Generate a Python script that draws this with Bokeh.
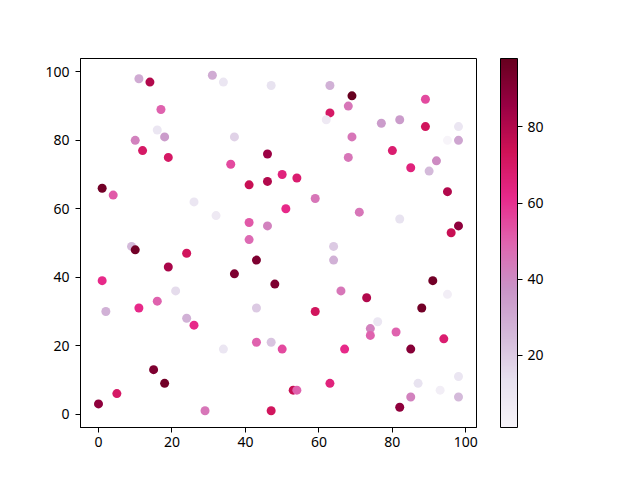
import numpy as np
from bokeh.plotting import figure
from bokeh.models import LinearColorMapper, ColorBar, FixedTicker, Range1d, ColumnDataSource
from bokeh.embed import file_html
from bokeh.resources import INLINE

xs = [11, 14, 31, 17, 16, 18, 10, 12, 19, 1, 34, 47, 63, 69, 68, 63, 62, 37, 69, 46,
      36, 68, 41, 46, 50, 54, 77, 82, 89, 89, 98, 95, 98, 80, 92, 85, 90, 4, 26, 32,
      9, 10, 24, 19, 1, 21, 16, 11, 2, 59, 51, 41, 46, 41, 64, 64, 43, 37, 48, 66,
      43, 59, 95, 71, 82, 98, 96, 91, 73, 95, 88, 24, 26, 15, 18, 5, 0, 29, 34, 43,
      47, 50, 67, 63, 53, 54, 47, 76, 74, 74, 81, 94, 85, 98, 87, 93, 85, 98, 82]
ys = [98, 97, 99, 89, 83, 81, 80, 77, 75, 66, 97, 96, 96, 93, 90, 88, 86, 81, 81, 76,
      73, 75, 67, 68, 70, 69, 85, 86, 92, 84, 84, 80, 80, 77, 74, 72, 71, 64, 62, 58,
      49, 48, 47, 43, 39, 36, 33, 31, 30, 63, 60, 56, 55, 51, 49, 45, 45, 41, 38, 36,
      31, 30, 65, 59, 57, 55, 53, 39, 34, 35, 31, 28, 26, 13, 9, 6, 3, 1, 19, 21,
      21, 19, 19, 9, 7, 7, 1, 27, 25, 23, 24, 22, 19, 11, 9, 7, 5, 5, 2]
cs = [30, 80, 30, 50, 10, 35, 42, 70, 70, 95, 10, 12, 28, 98, 45, 70, 8, 18, 45, 85,
      55, 45, 75, 80, 65, 68, 35, 35, 55, 72, 10, 1, 32, 68, 40, 65, 25, 52, 10, 8,
      25, 95, 72, 82, 62, 15, 50, 62, 28, 45, 62, 52, 42, 48, 20, 28, 92, 92, 92, 45,
      20, 72, 80, 45, 12, 88, 75, 95, 80, 5, 95, 28, 62, 92, 95, 70, 88, 45, 10, 50,
      22, 55, 62, 65, 75, 50, 72, 10, 42, 50, 50, 68, 90, 10, 12, 5, 42, 25, 88]

x_ticks = [0, 20, 40, 60, 80, 100]
y_ticks = [0, 20, 40, 60, 80, 100]
cbar_ticks = [20, 40, 60, 80]

# PuRd colormap (matplotlib anchors), interpolated to 256 levels
anchors = ["#f7f4f9", "#e7e1ef", "#d4b9da", "#c994c7", "#df65b0",
           "#e7298a", "#ce1256", "#980043", "#67001f"]
rgb = np.array([[int(h[i:i + 2], 16) for i in (1, 3, 5)] for h in anchors], float)
pos = np.linspace(0, 1, len(anchors))
t = np.linspace(0, 1, 256)
pal = []
for v in t:
    r = np.interp(v, pos, rgb[:, 0]); g = np.interp(v, pos, rgb[:, 1]); b = np.interp(v, pos, rgb[:, 2])
    pal.append("#%02x%02x%02x" % (int(round(r)), int(round(g)), int(round(b))))

mapper = LinearColorMapper(palette=pal, low=min(cs), high=max(cs))

src = ColumnDataSource(dict(x=xs, y=ys, c=cs))

FONT = "Noto Sans"

p = figure(width=624, height=464, output_backend="svg", toolbar_location=None,
           x_range=Range1d(-4.9, 102.9), y_range=Range1d(-3.9, 103.9),
           min_border_left=80, min_border_right=148, min_border_top=58, min_border_bottom=37)
p.scatter("x", "y", source=src, size=9, fill_color={"field": "c", "transform": mapper},
          line_color=None)

p.grid.visible = False
p.outline_line_color = "black"
p.outline_line_width = 1
p.background_fill_color = "white"
p.border_fill_color = "white"

for ax, ticks in ((p.xaxis[0], x_ticks), (p.yaxis[0], y_ticks)):
    ax.ticker = FixedTicker(ticks=ticks)
    ax.minor_tick_line_color = None
    ax.major_tick_in = 0
    ax.major_tick_out = 5
    ax.major_tick_line_color = "black"
    ax.axis_line_color = "black"
    ax.major_label_text_font = FONT
    ax.major_label_text_font_size = "14px"
    ax.major_label_text_color = "black"
p.yaxis[0].major_label_standoff = 6
p.xaxis[0].major_label_standoff = 4

cb = ColorBar(color_mapper=mapper, width=17, height=369, location=(420, 0),
              padding=0, margin=0, ticker=FixedTicker(ticks=cbar_ticks),
              major_tick_in=0, major_tick_out=5, major_tick_line_color="black",
              minor_tick_line_color=None, bar_line_color="black",
              border_line_color=None, background_fill_color=None,
              major_label_text_font=FONT, major_label_text_font_size="14px",
              major_label_text_color="black", label_standoff=5)
p.add_layout(cb)

open("out.html", "w").write(file_html(p, INLINE))
